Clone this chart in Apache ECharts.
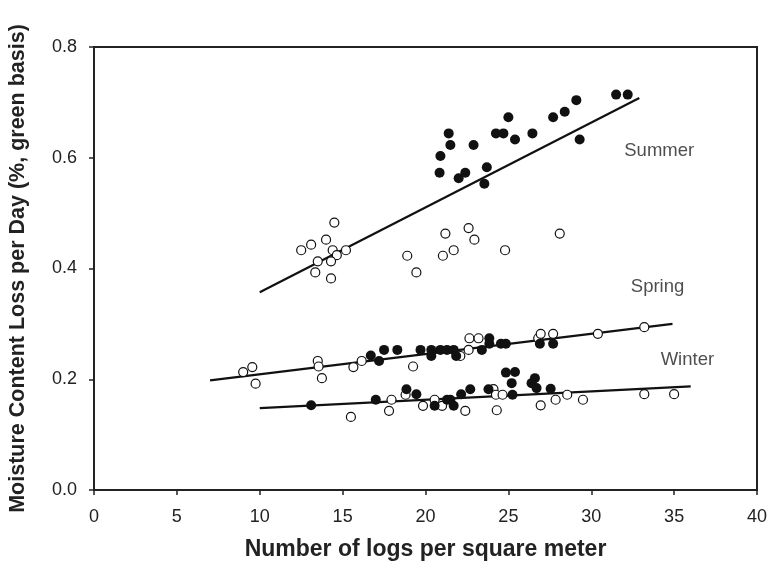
<!DOCTYPE html>
<html>
<head>
<meta charset="utf-8">
<script src="https://cdn.jsdelivr.net/npm/echarts@6/dist/echarts.min.js"></script>
<style>
    html, body {margin: 0; padding: 0; background: #fff;}
    #chart {width: 769px; height: 562px;}
</style>
</head>
<body>
<div id="chart"></div>
<script>
// summer points [logs per m2, loss]
var summerFilled = [
    [31.5, 0.714], [32.2, 0.714], [29.1, 0.704], [28.4, 0.683], [27.7, 0.673],
    [29.3, 0.633], [25.0, 0.673], [24.25, 0.644], [24.7, 0.644], [26.45, 0.644],
    [25.4, 0.633], [21.4, 0.644], [21.5, 0.623], [22.9, 0.623], [20.9, 0.603],
    [20.85, 0.573], [22.0, 0.563], [22.4, 0.573], [23.7, 0.583], [23.55, 0.553]
];
var summerOpen = [
    [14.5, 0.483], [14.0, 0.452], [13.1, 0.443], [12.5, 0.433], [14.4, 0.433],
    [15.2, 0.433], [14.65, 0.424], [13.5, 0.413], [14.3, 0.413], [13.35, 0.393],
    [14.3, 0.382], [18.9, 0.423], [19.45, 0.393], [21.2, 0.463], [21.05, 0.423],
    [21.7, 0.433], [22.6, 0.473], [22.95, 0.452], [24.8, 0.433], [28.1, 0.463]
];
// spring points
var springFilled = [
    [16.7, 0.243], [17.2, 0.233], [17.5, 0.253], [18.3, 0.253], [19.7, 0.253],
    [20.35, 0.253], [20.35, 0.242], [20.9, 0.253], [21.3, 0.253], [21.7, 0.253],
    [21.85, 0.242], [23.4, 0.253], [23.85, 0.274], [23.85, 0.264], [24.55, 0.264],
    [24.85, 0.264], [26.9, 0.264], [27.7, 0.264]
];
var springOpen = [
    [9.0, 0.213], [9.55, 0.222], [9.75, 0.192], [13.5, 0.233], [13.55, 0.223],
    [13.75, 0.202], [15.65, 0.222], [16.15, 0.233], [19.25, 0.223], [22.1, 0.242],
    [22.6, 0.253], [22.65, 0.274], [23.2, 0.274], [26.8, 0.274], [26.95, 0.282],
    [27.7, 0.282], [30.4, 0.282], [33.2, 0.294]
];
// winter points
var winterFilled = [
    [13.1, 0.153], [17.0, 0.163], [18.85, 0.182], [19.45, 0.173], [20.55, 0.152],
    [21.3, 0.163], [21.5, 0.163], [21.7, 0.152], [22.15, 0.173], [22.7, 0.182],
    [23.8, 0.182], [24.85, 0.212], [25.4, 0.213], [25.2, 0.193], [25.25, 0.172],
    [26.6, 0.202], [26.4, 0.193], [26.7, 0.184], [27.55, 0.183]
];
var winterOpen = [
    [15.5, 0.132], [17.8, 0.143], [17.95, 0.163], [18.8, 0.172], [19.85, 0.152],
    [20.55, 0.163], [21.0, 0.152], [22.4, 0.143], [24.1, 0.182], [24.25, 0.172],
    [24.65, 0.172], [24.3, 0.144], [26.95, 0.153], [27.85, 0.163], [28.55, 0.172],
    [29.5, 0.163], [33.2, 0.173], [35.0, 0.173]
];
// regression lines (end points)
var summerLine = [[10.0, 0.357], [32.9, 0.708]];
var springLine = [[7.0, 0.198], [34.9, 0.300]];
var winterLine = [[10.0, 0.148], [36.0, 0.187]];
// season names [x, y, text]
var seasonLabels = [[34.1, 0.612, 'Summer'], [34.0, 0.367, 'Spring'], [35.8, 0.235, 'Winter']];

var xTicks = {min: 0, max: 40, interval: 5};
var yTicks = {min: 0, max: 0.8, interval: 0.2};

var myChart = echarts.init(document.getElementById('chart'));

function filledSeries(d) {
    return {
        type: 'scatter', data: d, symbolSize: 10, z: 4,
        itemStyle: {color: '#111', borderColor: '#111', borderWidth: 0, opacity: 1}
    };
}
function openSeries(d) {
    return {
        type: 'scatter', data: d, symbolSize: 9, z: 3,
        itemStyle: {color: '#fff', borderColor: '#111', borderWidth: 1.2, opacity: 1}
    };
}
function lineSeries(d) {
    return {
        type: 'line', data: d, symbol: 'none', z: 2,
        lineStyle: {color: '#111', width: 2.2}
    };
}

var option = {
    animation: false,
    grid: {
        left: 94, right: 12, top: 47, bottom: 72,
        outerBoundsMode: 'none', containLabel: false,
        show: true, borderColor: '#222', borderWidth: 2, backgroundColor: 'transparent'
    },
    xAxis: {
        type: 'value',
        min: xTicks.min, max: xTicks.max, interval: xTicks.interval,
        name: 'Number of logs per square meter',
        nameLocation: 'middle', nameGap: 48,
        nameTextStyle: {fontFamily: 'Liberation Sans', fontWeight: 'bold', fontSize: 23, color: '#222'},
        axisLine: {onZero: false, lineStyle: {color: '#222', width: 2}},
        axisTick: {show: true, inside: false, length: 5, lineStyle: {color: '#222', width: 1.5}},
        axisLabel: {fontFamily: 'Liberation Sans', fontSize: 18, color: '#222', margin: 18},
        splitLine: {show: false}
    },
    yAxis: {
        type: 'value',
        min: yTicks.min, max: yTicks.max, interval: yTicks.interval,
        name: 'Moisture Content Loss per Day (%, green basis)',
        nameLocation: 'middle', nameGap: 65,
        nameTextStyle: {fontFamily: 'Liberation Sans', fontWeight: 'bold', fontSize: 21.5, color: '#222'},
        axisLine: {onZero: false, lineStyle: {color: '#222', width: 2}},
        axisTick: {show: true, inside: false, length: 5, lineStyle: {color: '#222', width: 1.5}},
        axisLabel: {
            fontFamily: 'Liberation Sans', fontSize: 18, color: '#222', margin: 17,
            formatter: function (v) { return v.toFixed(1); }
        },
        splitLine: {show: false}
    },
    series: [
        lineSeries(summerLine),
        lineSeries(springLine),
        lineSeries(winterLine),
        openSeries(summerOpen),
        openSeries(springOpen),
        openSeries(winterOpen),
        filledSeries(summerFilled),
        filledSeries(springFilled),
        filledSeries(winterFilled),
        {
            type: 'scatter', symbolSize: 0, z: 5, silent: true,
            data: seasonLabels.map(function (l) { return {value: [l[0], l[1]], name: l[2]}; }),
            label: {
                show: true, position: 'inside', formatter: '{b}',
                fontFamily: 'Liberation Sans', fontSize: 18.5, color: '#222'
            }
        }
    ]
};

myChart.setOption(option);
</script>
</body>
</html>
